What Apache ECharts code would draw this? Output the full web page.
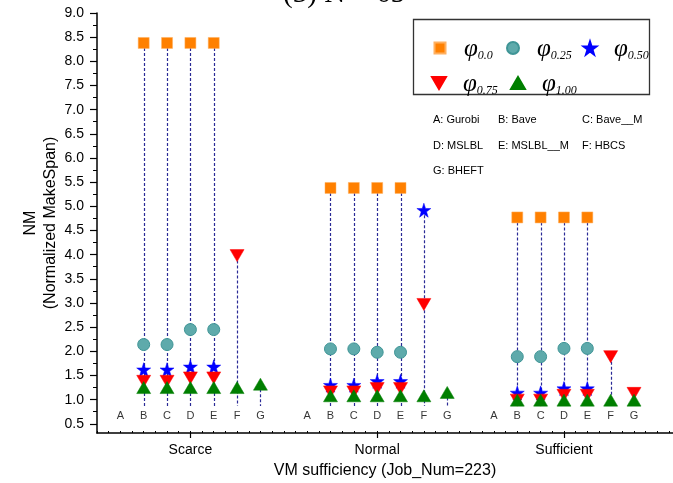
<!DOCTYPE html>
<html><head><meta charset="utf-8">
<script src="https://cdn.jsdelivr.net/npm/echarts@6/dist/echarts.min.js"></script>
<style>html,body{margin:0;padding:0;background:#fff}#c{width:673px;height:483px}</style>
</head><body><div id="c"></div>
<script>
// ---- data ----
const groups = ['Scarce', 'Normal', 'Sufficient'];
const letters = ['A', 'B', 'C', 'D', 'E', 'F', 'G'];
const seriesNames = ['φ0.0', 'φ0.25', 'φ0.50', 'φ0.75', 'φ1.00'];
// values per group, per letter A..G (null = no mark)
const phi00 = [
  [null, 8.38, 8.38, 8.38, 8.38, null, null],
  [null, 5.38, 5.38, 5.38, 5.38, null, null],
  [null, 4.77, 4.77, 4.77, 4.77, null, null]
];
const phi025 = [
  [null, 2.14, 2.14, 2.45, 2.45, null, null],
  [null, 2.05, 2.05, 1.98, 1.98, null, null],
  [null, 1.89, 1.89, 2.06, 2.06, null, null]
];
const phi050 = [
  [null, 1.62, 1.62, 1.68, 1.68, null, null],
  [null, 1.30, 1.30, 1.38, 1.38, 4.92, null],
  [null, 1.14, 1.14, 1.23, 1.23, null, null]
];
const phi075 = [
  [null, 1.38, 1.38, 1.45, 1.45, 3.98, null],
  [null, 1.16, 1.16, 1.23, 1.23, 2.97, null],
  [null, 0.99, 0.99, 1.09, 1.09, 1.89, 1.13]
];
const phi100 = [
  [null, 1.25, 1.25, 1.25, 1.25, 1.25, 1.32],
  [null, 1.08, 1.08, 1.08, 1.08, 1.08, 1.15],
  [null, 0.99, 0.99, 0.99, 0.99, 0.99, 0.99]
];
const yTickLabels = [0.5,1.0,1.5,2.0,2.5,3.0,3.5,4.0,4.5,5.0,5.5,6.0,6.5,7.0,7.5,8.0,8.5,9.0];
const yMinorTicks = [0.75,1.25,1.75,2.25,2.75,3.25,3.75,4.25,4.75,5.25,5.75,6.25,6.75,7.25,7.75,8.25,8.75];
const notes = ['A: Gurobi', 'B: Bave', 'C: Bave__M', 'D: MSLBL', 'E: MSLBL__M', 'F: HBCS', 'G: BHEFT'];
const xName = 'VM sufficiency (Job_Num=223)';
const yName = 'NM\n(Normalized MakeSpan)';
const titleText = '(3) N = 65';

// ---- layout constants ----
const SLOTS = 8;           // slots per group on the x value axis
const LETTER_Y = 0.66;     // value level where letters are written
const DROP_BOTTOM = 0.87;  // bottom of dashed drop lines

function pts(arr) {
  const out = [];
  arr.forEach((g, gi) => g.forEach((v, li) => { if (v !== null) out.push([gi * SLOTS + li, v]); }));
  return out;
}
const allSeries = [phi00, phi025, phi050, phi075, phi100];
const drops = [];
groups.forEach((g, gi) => letters.forEach((l, li) => {
  const vals = allSeries.map(s => s[gi][li]).filter(v => v !== null);
  if (vals.length) drops.push([gi * SLOTS + li, Math.max(...vals), DROP_BOTTOM]);
}));
const letterPts = [];
groups.forEach((g, gi) => letters.forEach((l, li) => letterPts.push({ value: [gi * SLOTS + li, LETTER_Y], name: l })));
const groupCenters = groups.map((g, gi) => gi * SLOTS + 3);

const STAR = 'path://M50,0 L61.8,35.6 L100,36.2 L69.1,58.8 L80.9,95.1 L50,72.9 L19.1,95.1 L30.9,58.8 L0,36.2 L38.2,35.6 Z';
const TRI_DOWN = 'path://M0,0 L100,0 L50,86 Z';
const styles = [
  { symbol: 'rect', size: 11, legendSize: [11, 11], color: '#ff8000', border: '#ffb060' },
  { symbol: 'circle', size: 12, legendSize: [12, 12], color: '#5eaaab', border: '#3f9596' },
  { symbol: STAR, size: 14, legendSize: [13, 13], color: '#0000ff', border: '#0000ff' },
  { symbol: TRI_DOWN, size: [14, 12], legendSize: [14, 12], color: '#ff0000', border: '#ff0000' },
  { symbol: 'triangle', size: [14, 12], legendSize: [14, 12], color: '#007f00', border: '#007f00' }
];

const chart = echarts.init(document.getElementById('c'));
const series = [];
series.push({
  type: 'custom', name: 'drops', xAxisIndex: 0, yAxisIndex: 0, silent: true, z: 1,
  data: drops,
  renderItem: (params, api) => {
    const p1 = api.coord([api.value(0), api.value(1)]);
    const p2 = api.coord([api.value(0), api.value(2)]);
    return { type: 'line', shape: { x1: Math.round(p1[0]) + 0.5, y1: p1[1], x2: Math.round(p2[0]) + 0.5, y2: p2[1] },
      style: { stroke: '#2a2a96', lineWidth: 1.2, lineDash: [3, 2] } };
  }
});
[phi00, phi025, phi050, phi075, phi100].forEach((arr, i) => {
  const st = styles[i];
  series.push({
    type: 'scatter', name: seriesNames[i], xAxisIndex: 0, yAxisIndex: 0, z: 3 + i,
    symbol: st.symbol, symbolSize: st.size, symbolKeepAspect: false,
    itemStyle: { color: st.color, borderColor: st.border, borderWidth: i === 1 ? 1 : 0.5, opacity: 1 },
    emphasis: { disabled: true },
    data: pts(arr)
  });
});
series.push({
  type: 'scatter', name: 'letters', xAxisIndex: 0, yAxisIndex: 0, symbolSize: 0, silent: true,
  data: letterPts,
  label: { show: true, position: 'inside', formatter: p => p.name, color: '#000', fontSize: 11, fontFamily: 'Liberation Sans' }
});

const legendPos = [[439, 47], [512, 47], [589, 47], [438, 82], [517, 82]];
const legends = seriesNames.map((n, i) => {
  const st = styles[i];
  const w = st.legendSize[0];
  const h = st.legendSize[1];
  return {
    data: [n],
    left: legendPos[i][0] - w / 2, top: legendPos[i][1] - 10, padding: 0,
    itemWidth: w, itemHeight: h, selectedMode: false, symbolKeepAspect: false,
    formatter: nm => '{p|φ}{s|' + nm.slice(1) + '}',
    textStyle: {
      padding: [0, 0, 0, 19 - w / 2],
      rich: {
        p: { fontFamily: 'Liberation Serif', fontStyle: 'italic', fontSize: 25, lineHeight: 28, color: '#000', verticalAlign: 'bottom' },
        s: { fontFamily: 'Liberation Serif', fontStyle: 'italic', fontSize: 12, lineHeight: 28, color: '#000', verticalAlign: 'bottom', padding: [0, 0, 0, 0] }
      }
    }
  };
});

const noteCols = [433, 498, 582];
const noteRows = [120, 146, 171];
const graphics = [
  { type: 'rect', shape: { x: 413.5, y: 19.5, width: 236, height: 75 }, style: { fill: 'none', stroke: '#333', lineWidth: 1.3 }, z: 0 },
  { type: 'text', x: 344, y: 9, style: { text: titleText, font: '29px "Liberation Serif"', fill: '#000', textAlign: 'center', textVerticalAlign: 'bottom' } }
];
notes.forEach((t, i) => {
  graphics.push({ type: 'text', x: noteCols[i % 3], y: noteRows[Math.floor(i / 3)],
    style: { text: t, font: '11px "Liberation Sans"', fill: '#000', textAlign: 'left', textVerticalAlign: 'middle' } });
});

chart.setOption({
  animation: false,
  backgroundColor: '#fff',
  grid: { left: 97, right: 0, top: 13, bottom: 50, outerBoundsMode: 'none' },
  xAxis: [{
    type: 'value', min: -1, max: 23.67,
    axisLine: { show: true, onZero: false, lineStyle: { color: '#000', width: 1.5 } },
    axisTick: { show: true, customValues: groupCenters, length: 5, inside: false, lineStyle: { color: '#000', width: 1.2 } },
    axisLabel: { customValues: groupCenters, formatter: v => groups[Math.round((v - 3) / SLOTS)], color: '#000', fontSize: 14, fontFamily: 'Liberation Sans', margin: 10 },
    splitLine: { show: false },
    name: xName, nameLocation: 'middle', nameGap: 30, nameMoveOverlap: false,
    nameTextStyle: { color: '#000', fontSize: 16, fontFamily: 'Liberation Sans' }
  }, {
    type: 'value', min: -1, max: 23.67, interval: 0.5, position: 'bottom',
    axisLine: { show: false, onZero: false },
    axisTick: { show: true, inside: true, length: 2, lineStyle: { color: '#000', width: 1 } },
    axisLabel: { show: false }, splitLine: { show: false }
  }],
  yAxis: [{
    type: 'value', min: 0.31, max: 9,
    axisLine: { show: true, onZero: false, lineStyle: { color: '#000', width: 1.5 } },
    axisTick: { show: true, customValues: yTickLabels, length: 7, inside: false, lineStyle: { color: '#000', width: 1.2 } },
    axisLabel: { customValues: yTickLabels, formatter: v => v.toFixed(1), color: '#000', fontSize: 14, fontFamily: 'Liberation Sans', margin: 13 },
    splitLine: { show: false },
    name: yName, nameLocation: 'middle', nameRotate: 90, nameGap: 36, nameMoveOverlap: false,
    nameTextStyle: { color: '#000', fontSize: 16, fontFamily: 'Liberation Sans', lineHeight: 20 }
  }, {
    type: 'value', min: 0.31, max: 9, position: 'left',
    axisLine: { show: false, onZero: false },
    axisTick: { show: true, customValues: yMinorTicks, length: 4, inside: false, lineStyle: { color: '#000', width: 1 } },
    axisLabel: { show: false }, splitLine: { show: false }
  }],
  legend: legends,
  graphic: graphics,
  series: series
});
</script></body></html>
